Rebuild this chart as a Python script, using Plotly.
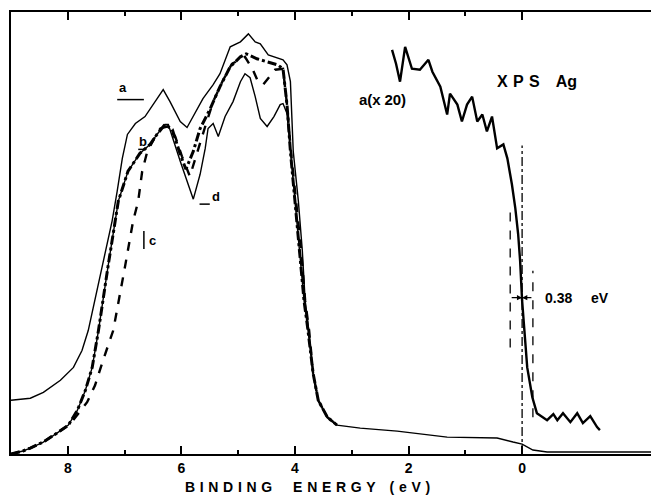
import plotly.graph_objects as go

# ---- data (binding energy in eV, intensity in arbitrary units) ----
energy_a = [9.0, 8.66, 8.43, 8.13, 7.90, 7.75, 7.64, 7.39, 7.22, 7.13, 7.04, 6.95, 6.81, 6.64,
            6.46, 6.32, 6.20, 6.02, 5.90, 5.76, 5.62, 5.44, 5.32, 5.14, 4.96, 4.82, 4.70, 4.61,
            4.47, 4.21, 4.14, 4.08, 4.03, 3.94, 3.87, 3.82, 3.77, 3.68, 3.59, 3.43, 3.26,
            2.85, 2.20, 1.32, 0.44, 0.16, 0.0, -0.19, -0.44, -2.34]
intens_a = [54, 56, 62, 74, 87, 104, 124, 189, 234, 264, 297, 321, 332, 339,
            354, 366, 354, 334, 328, 342, 357, 371, 382, 409, 414, 422, 414, 412,
            401, 396, 391, 374, 304, 254, 204, 154, 131, 81, 54, 37, 29,
            26, 23, 17, 16, 12, 10, 4, 2, 2]

energy_b = [9.0, 8.79, 8.66, 8.43, 8.19, 7.99, 7.83, 7.69, 7.57, 7.46, 7.29, 7.20, 7.11, 6.94,
            6.73, 6.55, 6.43, 6.29, 6.16, 6.02, 5.92, 5.79, 5.67, 5.49, 5.32, 5.14, 4.96, 4.86,
            4.67, 4.49, 4.31, 4.21, 4.14, 4.08, 4.00, 3.91, 3.84, 3.77, 3.68, 3.59, 3.43, 3.26]
intens_b = [0, 3, 6, 12, 21, 29, 44, 64, 87, 124, 189, 224, 254, 284,
            302, 311, 321, 331, 326, 301, 286, 304, 327, 347, 369, 389, 399, 402,
            397, 394, 391, 387, 351, 304, 254, 204, 154, 124, 81, 54, 37, 29]

energy_c = [9.0, 8.79, 8.66, 8.43, 8.19, 7.96, 7.66, 7.52, 7.38, 7.20, 6.99, 6.85, 6.76, 6.69,
            6.60, 6.46, 6.37, 6.25, 6.11, 5.99, 5.85, 5.72, 5.58, 5.44, 5.28, 5.11, 4.88, 4.75,
            4.65, 4.56, 4.47, 4.35, 4.21, 4.14, 4.07, 3.98, 3.89, 3.82, 3.75, 3.68, 3.59, 3.43, 3.26]
intens_c = [0, 3, 6, 12, 21, 30, 52, 69, 94, 124, 189, 234, 254, 284,
            304, 319, 327, 329, 319, 299, 279, 304, 329, 354, 374, 392, 399, 387,
            374, 371, 377, 386, 387, 351, 304, 254, 204, 154, 124, 81, 54, 37, 29]

energy_d = [9.0, 8.79, 8.66, 8.43, 8.19, 7.99, 7.83, 7.69, 7.57, 7.46, 7.29, 7.20, 7.11, 6.94,
            6.73, 6.55, 6.43, 6.29, 6.23, 6.02, 5.90, 5.79, 5.67, 5.58, 5.53, 5.44, 5.35, 5.23,
            5.09, 4.96, 4.88, 4.79, 4.70, 4.61, 4.49, 4.37, 4.26, 4.21, 4.14, 4.08, 4.00, 3.91,
            3.84, 3.77, 3.68, 3.59, 3.43, 3.26]
intens_d = [0, 3, 6, 12, 21, 29, 44, 64, 87, 124, 189, 224, 254, 284,
            302, 311, 321, 331, 331, 294, 274, 256, 281, 307, 327, 332, 319, 339,
            354, 374, 382, 378, 359, 337, 329, 339, 351, 352, 342, 304, 254, 204,
            154, 124, 81, 54, 37, 29]

energy_ax20 = [2.29, 2.22, 2.15, 2.10, 2.06, 1.94, 1.80, 1.65, 1.58, 1.44, 1.32, 1.27, 1.14,
               1.06, 0.97, 0.88, 0.79, 0.70, 0.62, 0.53, 0.44, 0.33, 0.26, 0.18, 0.12, 0.07,
               0.035, 0.0, -0.09, -0.18, -0.26, -0.44, -0.55, -0.62, -0.72, -0.85, -0.97,
               -1.07, -1.20, -1.32, -1.37]
intens_ax20 = [406, 392, 374, 394, 409, 387, 386, 396, 384, 369, 341, 362, 351,
               334, 351, 359, 334, 341, 324, 339, 307, 311, 297, 271, 247, 221,
               194, 154, 87, 57, 41, 34, 40, 34, 41, 32, 41,
               31, 38, 27, 24]

major_ticks = [0, 2, 4, 6, 8]
minor_ticks = [1, 3, 5, 7]
fermi_width_edges = [0.21, -0.19]   # eV, marks of the 0.38 eV width

FONT = "Liberation Sans"

fig = go.Figure()
fig.add_trace(go.Scatter(x=energy_a, y=intens_a, mode="lines",
                         line=dict(color="black", width=1.4), name="a"))
fig.add_trace(go.Scatter(x=energy_b, y=intens_b, mode="lines",
                         line=dict(color="black", width=3, dash="dashdot"), name="b"))
fig.add_trace(go.Scatter(x=energy_c, y=intens_c, mode="lines",
                         line=dict(color="black", width=2.4, dash="dash"), name="c"))
fig.add_trace(go.Scatter(x=energy_d, y=intens_d, mode="lines",
                         line=dict(color="black", width=1.4), name="d"))
fig.add_trace(go.Scatter(x=energy_ax20, y=intens_ax20, mode="lines",
                         line=dict(color="black", width=2.4), name="a(x20)"))

# vertical markers near the Fermi level
fig.add_shape(type="line", x0=0, x1=0, y0=0, y1=310, xref="x", yref="y",
              line=dict(color="black", width=1.3, dash="dashdot"))
fig.add_shape(type="line", x0=fermi_width_edges[0], x1=fermi_width_edges[0], y0=107, y1=247,
              xref="x", yref="y", line=dict(color="black", width=1.3, dash="dash"))
fig.add_shape(type="line", x0=fermi_width_edges[1], x1=fermi_width_edges[1], y0=37, y1=184,
              xref="x", yref="y", line=dict(color="black", width=1.3, dash="dash"))
# arrows for width
fig.add_annotation(x=0.0, y=157, ax=fermi_width_edges[0], ay=157, xref="x", yref="y",
                   axref="x", ayref="y", showarrow=True, arrowhead=2, arrowsize=0.8,
                   arrowwidth=1.3, arrowcolor="black", text="")
fig.add_annotation(x=0.0, y=157, ax=fermi_width_edges[1], ay=157, xref="x", yref="y",
                   axref="x", ayref="y", showarrow=True, arrowhead=2, arrowsize=0.8,
                   arrowwidth=1.3, arrowcolor="black", text="")

# curve labels and texts
def txt(x, y, s, size=13, anchor="left"):
    fig.add_annotation(x=x, y=y, xref="x", yref="y", text=s, showarrow=False,
                       xanchor=anchor, yanchor="middle",
                       font=dict(family=FONT, size=size, color="black", weight="bold"))

txt(-0.37, 157, "0.38&#8195;&#8196;eV", 14)
txt(0.47, 374, "X&#8196;P&#8196;S&#8195;Ag", 16)
txt(2.90, 356, "a(x&#8197;20)", 15)
txt(7.13, 368, "a", 13)
txt(6.78, 314, "b", 13)
txt(6.60, 214, "c", 13)
txt(5.49, 259, "d", 13)
# label underline strokes
fig.add_shape(type="line", x0=7.13, x1=6.66, y0=356, y1=356, line=dict(color="black", width=1.5))
fig.add_shape(type="line", x0=6.76, x1=6.62, y0=306, y1=306, line=dict(color="black", width=1.5))
fig.add_shape(type="line", x0=6.66, x1=6.66, y0=206, y1=224, line=dict(color="black", width=1.5))
fig.add_shape(type="line", x0=5.68, x1=5.50, y0=251, y1=251, line=dict(color="black", width=1.5))

fig.add_annotation(x=0.461, y=-0.075, xref="paper", yref="paper",
                   text="B&#8196;I&#8196;N&#8196;D&#8196;I&#8196;N&#8196;G&#8195;&#8194;E&#8196;N&#8196;E&#8196;R&#8196;G&#8196;Y&#8195;(&#8196;e&#8196;V&#8196;)",
                   showarrow=False, xanchor="center", yanchor="middle",
                   font=dict(family=FONT, size=14, color="black", weight="bold"))

# page body has an 8px margin: figure is placed at (8, 8) in the window
fig.update_layout(
    width=651, height=490,
    margin=dict(l=3, r=4, t=2, b=44),
    paper_bgcolor="white", plot_bgcolor="white",
    showlegend=False,
    xaxis=dict(range=[9.0, -2.34], tickvals=major_ticks, ticktext=[str(v) for v in major_ticks],
               ticks="inside", ticklen=8, tickwidth=2, tickcolor="black",
               minor=dict(tickvals=minor_ticks, ticks="inside", ticklen=4, tickwidth=2,
                          tickcolor="black"),
               showline=True, linewidth=2, linecolor="black", mirror="ticks",
               showgrid=False, zeroline=False,
               tickfont=dict(family=FONT, size=14, color="black", weight="bold")),
    yaxis=dict(range=[0, 444], showticklabels=False, ticks="", showgrid=False,
               zeroline=False, showline=True, linewidth=2, linecolor="black"),
)

fig.write_html("out.html")
